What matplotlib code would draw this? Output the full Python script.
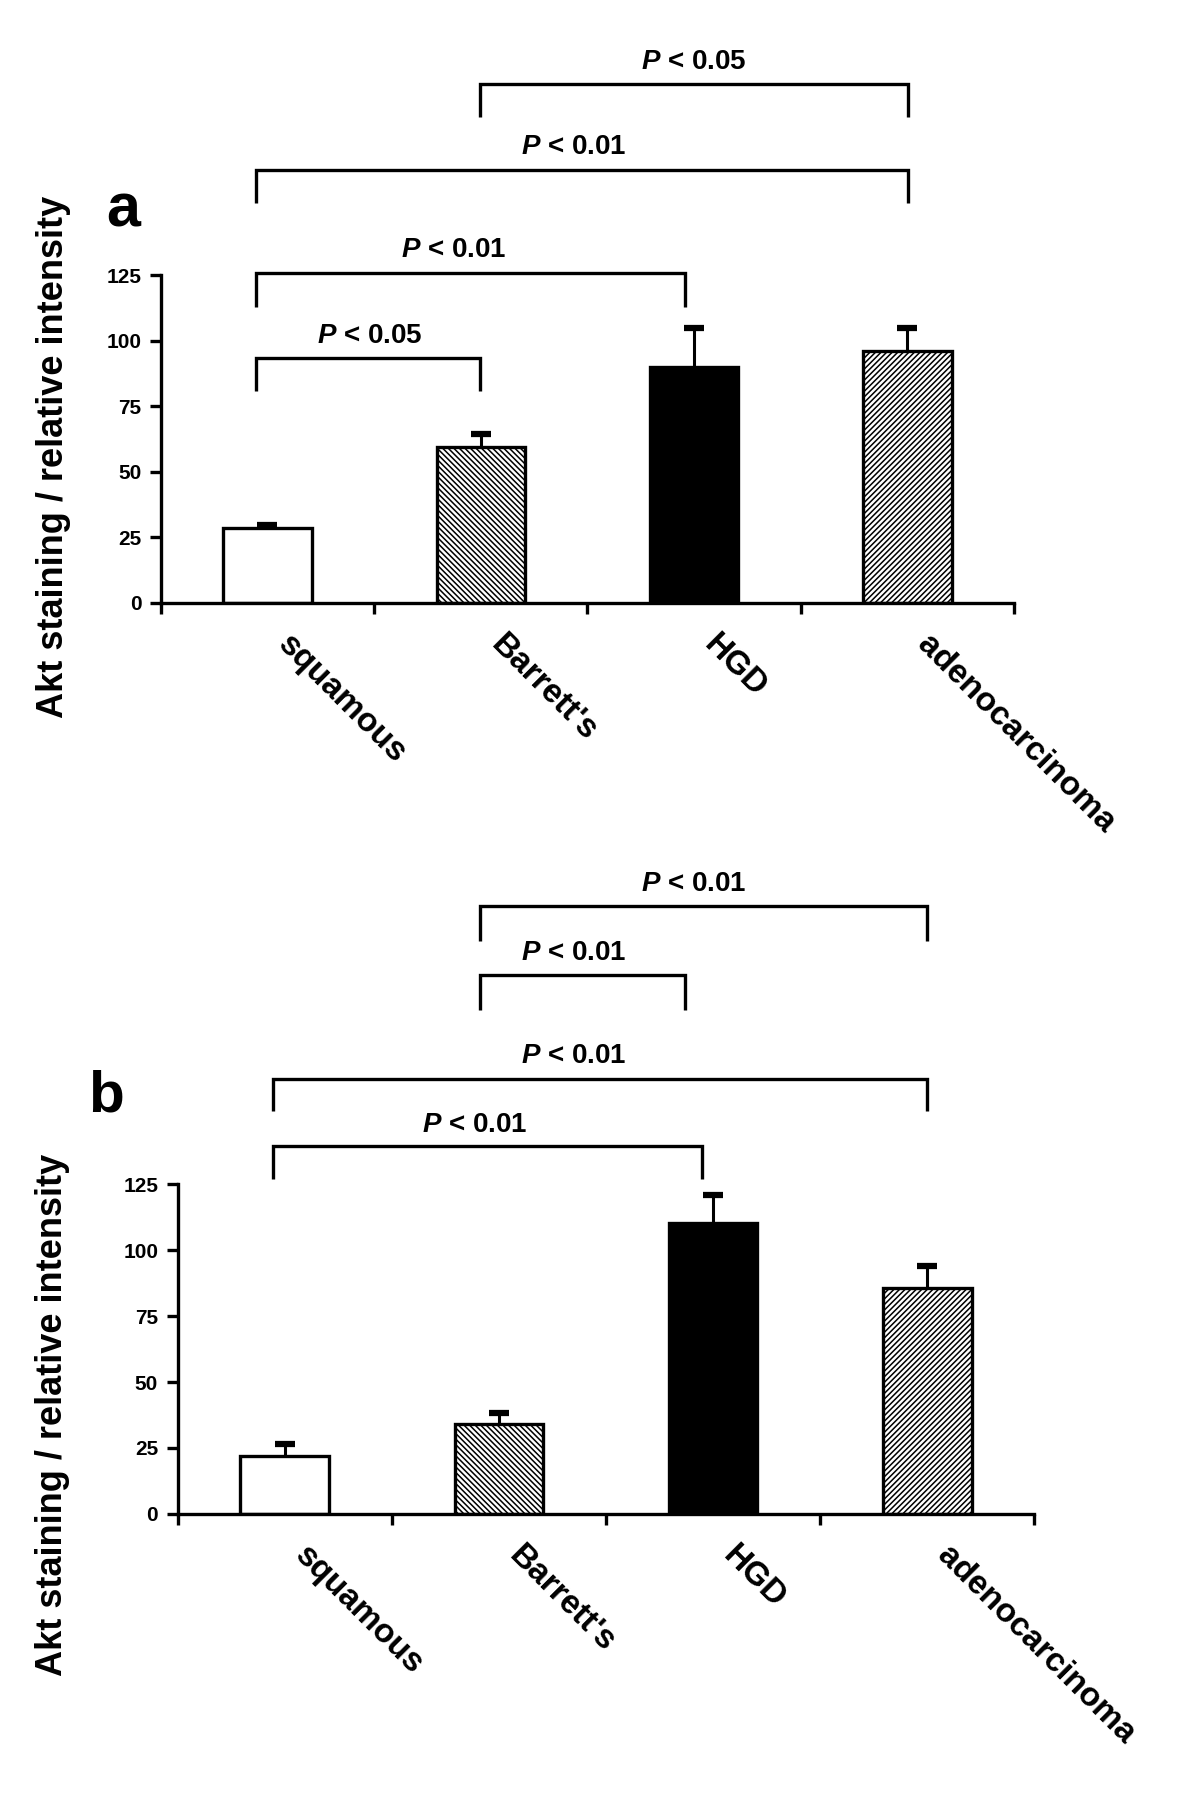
import numpy as np
import matplotlib
matplotlib.use("Agg")
import matplotlib.pyplot as plt
import matplotlib.transforms as mtransforms

plt.rcParams['font.family'] = ['Liberation Sans', 'DejaVu Sans']
plt.rcParams['font.weight'] = 'bold'
plt.rcParams['mathtext.fontset'] = 'custom'
plt.rcParams['mathtext.it'] = 'Liberation Sans:italic:bold'
plt.rcParams['mathtext.rm'] = 'Liberation Sans:bold'
plt.rcParams['hatch.linewidth'] = 1.1

categories = ["squamous", "Barrett's", "HGD", "adenocarcinoma"]
yticks = [0, 25, 50, 75, 100, 125]

# panel a
means_a = [28.5, 59.5, 90, 96]
sem_a = [1.3, 5, 15, 9]
# (x_left, x_right, y, drop_to, text_x, text_y, label)
brackets_a = [
    (-0.054, 0.995, 93.4, 81.0, 0.478, 101.8, "$P$ < 0.05"),
    (-0.054, 1.957, 126.0, 113.0, 0.871, 134.6, "$P$ < 0.01"),
    (-0.054, 3.005, 165.4, 152.6, 1.435, 174.0, "$P$ < 0.01"),
    (0.995, 3.005, 198.2, 185.5, 2.0, 206.6, "$P$ < 0.05"),
]

# panel b
means_b = [22, 34, 110.5, 85.6]
sem_b = [4.4, 4.4, 10.5, 8.3]
brackets_b = [
    (-0.054, 1.95, 139.7, 127.0, 0.885, 147.6, "$P$ < 0.01"),
    (-0.054, 3.0, 165.0, 152.8, 1.35, 173.8, "$P$ < 0.01"),
    (0.91, 1.87, 204.4, 191.3, 1.35, 213.0, "$P$ < 0.01"),
    (0.91, 3.0, 230.6, 217.5, 1.91, 238.9, "$P$ < 0.01"),
]

faces = ['white', 'white', 'black', 'white']
hatches = [None, '\\\\\\\\\\\\', None, '//////']


def draw_panel(fig, rect, means, sems, brackets):
    ax = fig.add_axes(rect)
    x = np.arange(len(categories))
    means = np.array(means)
    tops = means + np.array(sems)
    for i in range(len(categories)):
        ax.bar(x[i], means[i], width=0.414, color=faces[i], edgecolor='black',
               linewidth=2.4, hatch=hatches[i], zorder=2)
    # upper error bars only
    ax.vlines(x, means, tops, color='black', lw=2.2, zorder=1)
    ax.plot(x, tops, ls='none', marker='_', ms=15, mew=4.5, color='black', zorder=1)
    ax.set_xlim(-0.5, 3.5)
    ax.set_ylim(0, 125)
    ax.set_yticks(yticks)
    ax.set_yticklabels([str(v) for v in yticks], fontsize=15, fontweight='bold')
    ax.set_xticks(np.arange(-0.5, 3.6, 1.0))
    ax.set_xticklabels([])
    for s in ['top', 'right']:
        ax.spines[s].set_visible(False)
    for s in ['left', 'bottom']:
        ax.spines[s].set_linewidth(2.4)
    ax.tick_params(axis='both', direction='out', length=8, width=2.4, pad=6)

    trans = mtransforms.blended_transform_factory(ax.transData, ax.transAxes)
    off = mtransforms.ScaledTranslation(0.26, -0.26, fig.dpi_scale_trans)
    for i, lab in enumerate(categories):
        ax.text(x[i], 0, lab, transform=trans + off, rotation=-45,
                rotation_mode='anchor', ha='left', va='top',
                fontsize=24, fontweight='bold')

    for x0, x1, y, y0, tx, ty, lab in brackets:
        ax.plot([x0, x0, x1, x1], [y0, y, y, y0], color='black', lw=2.4,
                clip_on=False, solid_capstyle='butt', solid_joinstyle='miter')
        ax.text(tx, ty, lab, ha='center', va='center', fontsize=20,
                fontweight='bold', clip_on=False)
    return ax


fig = plt.figure(figsize=(12, 18), dpi=100)
draw_panel(fig, [0.134, 0.665, 0.711, 0.182], means_a, sem_a, brackets_a)
draw_panel(fig, [0.148, 0.159, 0.714, 0.183], means_b, sem_b, brackets_b)

fig.text(0.103, 0.883, "a", fontsize=44, fontweight='bold', ha='center', va='center')
fig.text(0.088, 0.391, "b", fontsize=42, fontweight='bold', ha='center', va='center')
fig.text(0.045, 0.746, "Akt staining / relative intensity", rotation=90,
         fontsize=26, fontweight='bold', ha='center', va='center')
fig.text(0.044, 0.214, "Akt staining / relative intensity", rotation=90,
         fontsize=26, fontweight='bold', ha='center', va='center')

fig.savefig("out.png", dpi=100)
